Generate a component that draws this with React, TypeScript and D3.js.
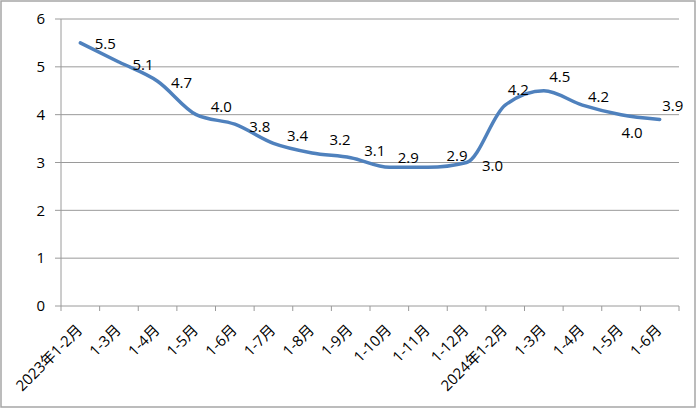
import React from "react";
import * as d3 from "d3";

const categories = [
  "2023年1-2月", "1-3月", "1-4月", "1-5月", "1-6月", "1-7月", "1-8月", "1-9月",
  "1-10月", "1-11月", "1-12月", "2024年1-2月", "1-3月", "1-4月", "1-5月", "1-6月",
];
const values = [5.5, 5.1, 4.7, 4.0, 3.8, 3.4, 3.2, 3.1, 2.9, 2.9, 3.0, 4.2, 4.5, 4.2, 4.0, 3.9];
const yTicks = [0, 1, 2, 3, 4, 5, 6];
// label offsets relative to each point (layout only)
const labelDx = [25, 24, 24, 25, 25, 24, 28, 24, 19, 29, 26, 13, 16, 16, 11, 13];
const labelDy = [1, 3, 2, -8, 3, -8, -13, -7, -10, -12, 3, -15, -14, -8, 18, -14];

const W = 700, H = 409;
const M = { left: 61, right: 679, top: 19, bottom: 306 };
const FONT = "'Open Sans', 'Noto Sans CJK SC', sans-serif";

export default function App() {
  const x = d3.scaleBand<number>().domain(d3.range(categories.length)).range([M.left, M.right]);
  const y = d3.scaleLinear().domain([0, 6]).range([M.bottom, M.top]);
  const cx = (i: number) => (x(i) as number) + x.bandwidth() / 2;
  const line = d3.line<number>().x((_, i) => cx(i)).y((d) => y(d)).curve(d3.curveMonotoneX);
  const tickXs = d3.range(categories.length + 1).map((i) => M.left + i * x.step());

  return (
    <svg width={W} height={H} style={{ position: "absolute", left: 0, top: 0, background: "#fff" }} fontFamily={FONT}>
      <rect x={1} y={1} width={694} height={406} fill="#fff" stroke="#a6a6a6" strokeWidth={1.5} />
      {yTicks.map((t) => (
        <g key={t}>
          {t > 0 && <line x1={M.left} x2={M.right} y1={y(t)} y2={y(t)} stroke="#9a9a9a" strokeWidth={1} />}
          <line x1={M.left - 6} x2={M.left} y1={y(t)} y2={y(t)} stroke="#9a9a9a" strokeWidth={1} />
          <text x={45} y={y(t)} dy="0.35em" textAnchor="end" fontSize={15} fill="#000">{t}</text>
        </g>
      ))}
      <line x1={M.left} x2={M.left} y1={M.top} y2={M.bottom} stroke="#9a9a9a" strokeWidth={1} />
      <line x1={M.left} x2={M.right} y1={M.bottom} y2={M.bottom} stroke="#9a9a9a" strokeWidth={1} />
      {tickXs.map((tx, i) => (
        <line key={i} x1={tx} x2={tx} y1={M.bottom} y2={M.bottom + 5} stroke="#9a9a9a" strokeWidth={1} />
      ))}
      {categories.map((c, i) => (
        <text key={i} transform={`translate(${cx(i) + 3},${M.bottom + 25}) rotate(-45)`} textAnchor="end" fontSize={15} fill="#000">
          {c}
        </text>
      ))}
      <path d={line(values) || ""} fill="none" stroke="#4f81bd" strokeWidth={3.5} strokeLinejoin="round" strokeLinecap="round" />
      {values.map((v, i) => (
        <text key={i} x={cx(i) + labelDx[i]} y={y(v) + labelDy[i]} dy="0.35em" textAnchor="middle" fontSize={15} fill="#000">
          {v.toFixed(1)}
        </text>
      ))}
    </svg>
  );
}
